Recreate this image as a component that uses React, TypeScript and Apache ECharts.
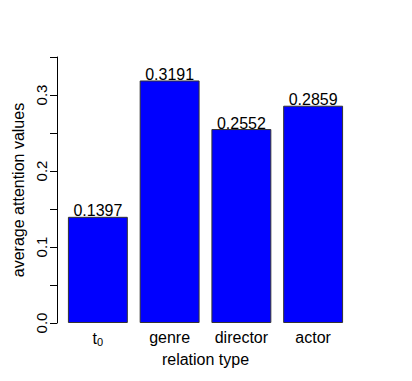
import React, { useEffect, useRef } from "react";
import * as echarts from "echarts";

const categories = ["t0", "genre", "director", "actor"];
const values = [0.1397, 0.3191, 0.2552, 0.2859];
const yTicks = [0, 0.05, 0.1, 0.15, 0.2, 0.25, 0.3, 0.35];

const FONT = "'Liberation Sans', Arial, Helvetica, sans-serif";

export default function App() {
  const ref = useRef<HTMLDivElement>(null);
  useEffect(() => {
    if (!ref.current) return;
    const chart = echarts.init(ref.current, null, { renderer: "svg" });
    chart.setOption({
      animation: false,
      backgroundColor: "#ffffff",
      textStyle: { fontFamily: FONT, color: "#000" },
      grid: { left: 62, right: 412 - 349, top: 57, bottom: 381 - 323 },
      xAxis: {
        type: "category",
        data: categories,
        axisLine: { show: false },
        axisTick: { show: false },
        axisLabel: {
          interval: 0,
          color: "#000",
          fontSize: 16,
          fontFamily: FONT,
          margin: 6,
          formatter: (v: string) => (v === "t0" ? "{a|t}{s|0}" : v),
          rich: {
            a: { fontSize: 16, fontFamily: FONT, color: "#000", lineHeight: 18 },
            s: { fontSize: 11, fontFamily: FONT, color: "#000", lineHeight: 18, padding: [7, 0, 0, 0] },
          },
        },
        name: "relation type",
        nameLocation: "middle",
        nameGap: 28,
        nameTextStyle: { color: "#000", fontSize: 16, fontFamily: FONT },
      },
      yAxis: {
        type: "value",
        min: yTicks[0],
        max: yTicks[yTicks.length - 1],
        interval: 0.05,
        offset: 5,
        splitLine: { show: false },
        axisLine: { show: true, lineStyle: { color: "#000", width: 1 } },
        axisTick: { show: true, length: 7, lineStyle: { color: "#000", width: 1 } },
        axisLabel: {
          color: "#000",
          fontSize: 15,
          fontFamily: FONT,
          rotate: 90,
          margin: 8,
          formatter: (v: number) =>
            Math.round(v * 100) % 10 === 0 ? v.toFixed(1) : "",
        },
        name: "average attention values",
        nameLocation: "middle",
        nameGap: 30,
        nameTextStyle: { color: "#000", fontSize: 16, fontFamily: FONT },
      },
      series: [
        {
          type: "bar",
          data: values,
          barCategoryGap: "16.5%",
          itemStyle: { color: "#0000ff", borderColor: "#333", borderWidth: 1 },
          label: {
            show: true,
            position: "top",
            distance: -2,
            color: "#000",
            fontSize: 16,
            fontFamily: FONT,
            formatter: (p: any) => p.value.toFixed(4),
          },
        },
      ],
    });
    return () => chart.dispose();
  }, []);
  return (
    <div
      ref={ref}
      style={{ position: "absolute", left: 0, top: 0, width: 412, height: 381 }}
    />
  );
}
